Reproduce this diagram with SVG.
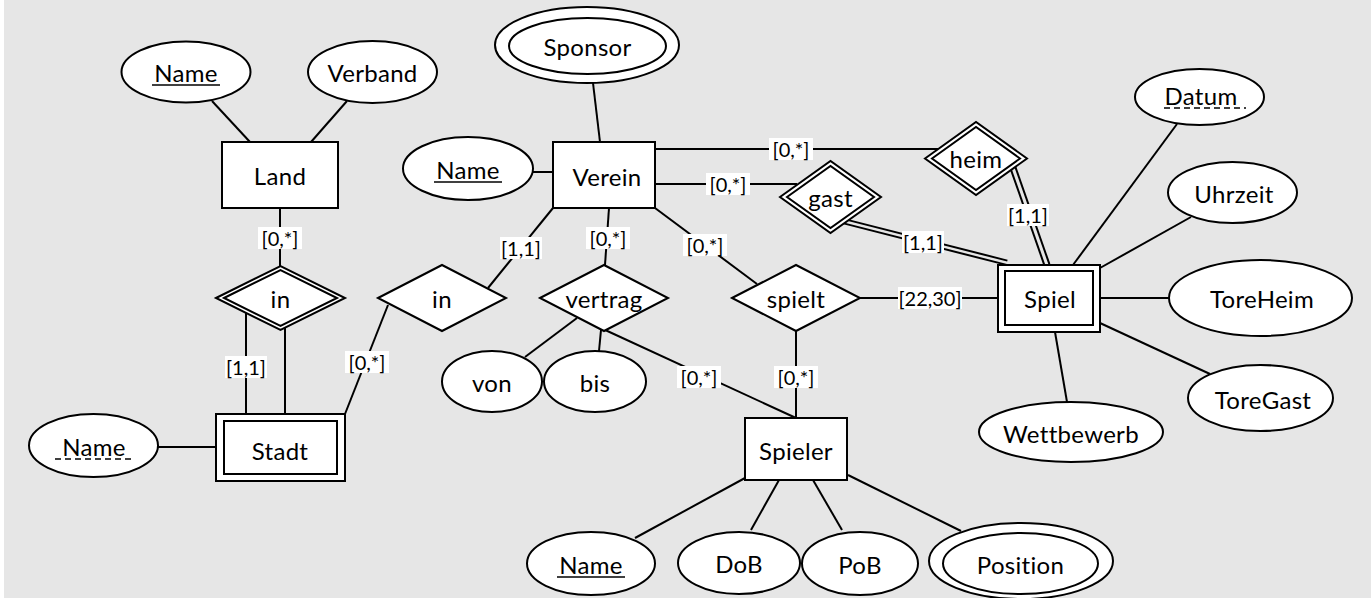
<svg xmlns="http://www.w3.org/2000/svg" width="1371" height="598" viewBox="0 0 1371 598">
<style>
.e{fill:#fff;stroke:#000;stroke-width:2}
.l{stroke:#000;stroke-width:2;fill:none}
.t{font-family:Lato,"Open Sans","Liberation Sans",sans-serif;font-size:24px;fill:#000;text-anchor:middle;dominant-baseline:central;letter-spacing:0.3px}
.c{font-family:Lato,"Open Sans","Liberation Sans",sans-serif;font-size:20px;fill:#000;text-anchor:middle;dominant-baseline:central}
.lb{fill:#fff}
.u{stroke:#000;stroke-width:1.5}
.ud{stroke:#000;stroke-width:1.5;stroke-dasharray:6,4}
</style>
<rect x="0" y="0" width="1371" height="598" fill="#fff"/>
<rect x="4" y="0" width="1367" height="598" fill="#e6e6e6"/>

<g id="connectors">
<line class="l" x1="212" y1="101" x2="250" y2="142"/>
<line class="l" x1="347" y1="101" x2="311" y2="142"/>
<line class="l" x1="280" y1="208" x2="280" y2="266"/>
<line class="l" x1="246" y1="313" x2="246" y2="414"/>
<line class="l" x1="285" y1="328" x2="285" y2="414"/>
<line class="l" x1="158" y1="447" x2="216" y2="447"/>
<line class="l" x1="345" y1="414" x2="388" y2="305"/>
<line class="l" x1="488" y1="288" x2="553" y2="208"/>
<line class="l" x1="593" y1="83" x2="600" y2="142"/>
<line class="l" x1="533" y1="172" x2="553" y2="172"/>
<line class="l" x1="609" y1="208" x2="605" y2="265"/>
<line class="l" x1="655" y1="149" x2="940" y2="149"/>
<line class="l" x1="655" y1="184" x2="797" y2="184"/>
<line class="l" x1="655" y1="208" x2="757" y2="284"/>
<line class="l" x1="860" y1="298" x2="998" y2="298"/>
<line class="l" x1="796" y1="331" x2="796" y2="418"/>
<line class="l" x1="577" y1="318" x2="525" y2="357"/>
<line class="l" x1="601" y1="330" x2="599" y2="351"/>
<line class="l" x1="603" y1="329" x2="796" y2="418"/>
<line class="l" x1="745" y1="478" x2="635" y2="538"/>
<line class="l" x1="779" y1="480" x2="751" y2="530"/>
<line class="l" x1="813" y1="480" x2="842" y2="530"/>
<line class="l" x1="848" y1="475" x2="961" y2="531"/>
<line class="l" x1="1177" y1="124" x2="1073" y2="265"/>
<line class="l" x1="1191" y1="217" x2="1100" y2="268"/>
<line class="l" x1="1100" y1="298" x2="1169" y2="298"/>
<line class="l" x1="1100" y1="323" x2="1210" y2="374"/>
<line class="l" x1="1055" y1="332" x2="1067" y2="402"/>
<line class="l" x1="842.4" y1="218.6" x2="1007.4" y2="260.6"/>
<line class="l" x1="843.6" y1="223.4" x2="1008.6" y2="265.4"/>
<line class="l" x1="1009.6" y1="165.8" x2="1044.6" y2="265.8"/>
<line class="l" x1="1014.4" y1="164.2" x2="1049.4" y2="264.2"/>
<rect class="lb" x="258" y="227" width="44" height="22"/><text class="c" x="280" y="238">[0,*]</text>
<rect class="lb" x="225" y="356" width="42" height="22"/><text class="c" x="246" y="367">[1,1]</text>
<rect class="lb" x="345" y="351" width="44" height="22"/><text class="c" x="367" y="362">[0,*]</text>
<rect class="lb" x="500" y="237" width="42" height="22"/><text class="c" x="521" y="248">[1,1]</text>
<rect class="lb" x="586" y="227" width="44" height="22"/><text class="c" x="608" y="238">[0,*]</text>
<rect class="lb" x="683" y="234" width="44" height="22"/><text class="c" x="705" y="245">[0,*]</text>
<rect class="lb" x="769" y="138" width="44" height="22"/><text class="c" x="791" y="149">[0,*]</text>
<rect class="lb" x="706" y="173" width="44" height="22"/><text class="c" x="728" y="184">[0,*]</text>
<rect class="lb" x="902" y="231" width="42" height="22"/><text class="c" x="923" y="242">[1,1]</text>
<rect class="lb" x="1007" y="204" width="42" height="22"/><text class="c" x="1028" y="215">[1,1]</text>
<rect class="lb" x="898" y="287" width="64" height="22"/><text class="c" x="930" y="298">[22,30]</text>
<rect class="lb" x="677" y="366" width="44" height="22"/><text class="c" x="699" y="377">[0,*]</text>
<rect class="lb" x="774" y="366" width="44" height="22"/><text class="c" x="796" y="377">[0,*]</text>
</g>

<g id="land-name"><ellipse class="e" cx="186" cy="72" rx="64.5" ry="30.5"/><text class="t" x="186" y="72">Name</text><line class="u" x1="152" y1="85" x2="220" y2="85"/></g>
<g id="verband"><ellipse class="e" cx="372.5" cy="72" rx="64.5" ry="31"/><text class="t" x="372.5" y="72">Verband</text></g>
<g id="land"><rect class="e" x="222" y="142" width="116" height="66"/><text class="t" x="280" y="175">Land</text></g>
<g id="in-land"><polygon class="e" points="216,298 280.5,266 345,298 280.5,330"/><polygon class="e" points="224,298 280.5,270 337,298 280.5,326"/><text class="t" x="280.5" y="298">in</text></g>
<g id="stadt"><rect class="e" x="216" y="414" width="129" height="67"/><rect class="e" x="224" y="421" width="113" height="53"/><text class="t" x="280" y="450">Stadt</text></g>
<g id="stadt-name"><ellipse class="e" cx="93.5" cy="445.5" rx="64.5" ry="31.5"/><text class="t" x="94" y="446">Name</text><line class="ud" x1="55" y1="459" x2="134" y2="459"/></g>
<g id="in-verein"><polygon class="e" points="378,298 442,265 506,298 442,331"/><text class="t" x="442" y="298">in</text></g>
<g id="sponsor"><ellipse class="e" cx="587" cy="45" rx="92" ry="38"/><ellipse class="e" cx="587.5" cy="46" rx="78.5" ry="28"/><text class="t" x="587.5" y="46">Sponsor</text></g>
<g id="verein-name"><ellipse class="e" cx="468" cy="168.5" rx="65" ry="31.5"/><text class="t" x="468" y="169">Name</text><line class="u" x1="434" y1="182" x2="502" y2="182"/></g>
<g id="verein"><rect class="e" x="553" y="142" width="102" height="66"/><text class="t" x="607" y="176">Verein</text></g>
<g id="heim"><polygon class="e" points="925,158.5 976,122 1027,158.5 976,195"/><polygon class="e" points="932,158.5 976,127 1020,158.5 976,190"/><text class="t" x="976" y="158">heim</text></g>
<g id="gast"><polygon class="e" points="780,197 830.5,161 881,197 830.5,233"/><polygon class="e" points="787,197 830.5,166 874,197 830.5,228"/><text class="t" x="830.5" y="197">gast</text></g>
<g id="spielt"><polygon class="e" points="732,298 796,265 860,298 796,331"/><text class="t" x="796" y="298">spielt</text></g>
<g id="vertrag"><polygon class="e" points="540,298 604,265 668,298 604,331"/><text class="t" x="604" y="298">vertrag</text></g>
<g id="von"><ellipse class="e" cx="492" cy="381.5" rx="50" ry="30.5"/><text class="t" x="492" y="382">von</text></g>
<g id="bis"><ellipse class="e" cx="595" cy="381.5" rx="51" ry="30.5"/><text class="t" x="595" y="382">bis</text></g>
<g id="spiel"><rect class="e" x="998" y="265" width="102" height="67"/><rect class="e" x="1005" y="271" width="88" height="54"/><text class="t" x="1050" y="298">Spiel</text></g>
<g id="datum"><ellipse class="e" cx="1199.5" cy="97" rx="64.5" ry="28"/><text class="t" x="1201" y="95">Datum</text><line class="ud" x1="1164" y1="108" x2="1246" y2="108"/></g>
<g id="uhrzeit"><ellipse class="e" cx="1232.5" cy="192.5" rx="64.5" ry="30.5"/><text class="t" x="1234" y="193">Uhrzeit</text></g>
<g id="toreheim"><ellipse class="e" cx="1260.5" cy="298" rx="91.5" ry="38"/><text class="t" x="1262" y="298">ToreHeim</text></g>
<g id="toregast"><ellipse class="e" cx="1260.5" cy="398" rx="72.5" ry="33"/><text class="t" x="1263" y="399">ToreGast</text></g>
<g id="wettbewerb"><ellipse class="e" cx="1071" cy="432" rx="92" ry="30"/><text class="t" x="1071" y="433">Wettbewerb</text></g>
<g id="spieler"><rect class="e" x="745" y="418" width="102" height="62"/><text class="t" x="796" y="450">Spieler</text></g>
<g id="spieler-name"><ellipse class="e" cx="591" cy="563.5" rx="64" ry="31.5"/><text class="t" x="591" y="564">Name</text><line class="u" x1="557" y1="577" x2="625" y2="577"/></g>
<g id="dob"><ellipse class="e" cx="739" cy="563" rx="61" ry="31"/><text class="t" x="739" y="563">DoB</text></g>
<g id="pob"><ellipse class="e" cx="860" cy="563.5" rx="58" ry="31.5"/><text class="t" x="860" y="564">PoB</text></g>
<g id="position"><ellipse class="e" cx="1021" cy="561" rx="92" ry="38"/><ellipse class="e" cx="1020.5" cy="563.5" rx="77.5" ry="30.5"/><text class="t" x="1020.5" y="564">Position</text></g>
</svg>
